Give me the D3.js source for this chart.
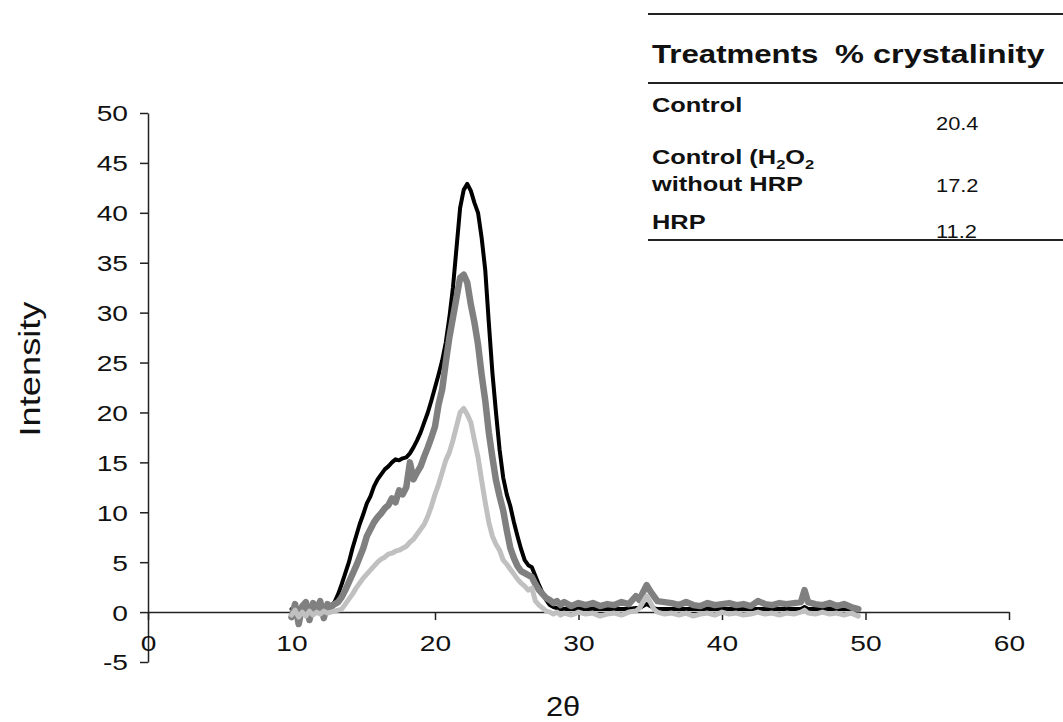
<!DOCTYPE html>
<html>
<head>
<meta charset="utf-8">
<script src="https://cdn.jsdelivr.net/npm/d3@7"></script>
<style>
  body { margin: 0; background: #fff; }
  svg { display: block; font-family: "Liberation Sans", Arial, sans-serif; }
</style>
</head>
<body>
<script>
// ---- data ----
const twoTheta = [10,10.25,10.5,10.75,11,11.25,11.5,11.75,12,12.25,12.5,12.75,13,13.25,13.5,13.75,14,14.25,14.5,14.75,15,15.25,15.5,15.75,16,16.25,16.5,16.75,17,17.25,17.5,17.75,18,18.25,18.5,18.75,19,19.25,19.5,19.75,20,20.25,20.5,20.75,21,21.25,21.5,21.75,22,22.25,22.5,22.75,23,23.25,23.5,23.75,24,24.25,24.5,24.75,25,25.25,25.5,25.75,26,26.25,26.5,26.75,27,27.25,27.5,27.75,28,28.25,28.5,28.75,29,29.5,30,30.5,31,31.5,32,32.5,33,33.5,34,34.25,34.5,34.75,35,35.25,35.5,36,36.5,37,37.5,38,38.5,39,39.5,40,40.5,41,41.5,42,42.5,43,43.5,44,44.5,45,45.5,45.75,46,46.5,47,47.5,48,48.5,49,49.5];

const controlIntensity = [0.3,0.2,0.4,0.2,0.4,0.3,0.3,0.4,0.3,0.4,0.5,0.6,1.0,1.8,2.8,3.9,5.0,6.4,7.6,8.8,9.8,10.9,11.6,12.6,13.3,13.8,14.3,14.6,15.0,15.3,15.2,15.4,15.5,15.9,16.5,17.2,18.0,19.0,20.0,21.2,22.5,23.8,25.2,27.0,29.5,32.5,36.5,40.5,42.3,42.9,42.2,41.0,40.0,37.5,34.3,29.0,24.0,20.0,16.3,13.5,11.8,10.6,9.0,7.6,6.3,5.2,4.7,4.5,3.6,2.7,1.9,1.2,0.7,0.5,0.4,0.3,0.3,0.3,0.3,0.3,0.3,0.3,0.3,0.3,0.3,0.3,0.4,0.4,0.6,0.8,0.6,0.4,0.3,0.3,0.3,0.3,0.3,0.3,0.3,0.3,0.3,0.3,0.3,0.3,0.3,0.3,0.3,0.3,0.3,0.3,0.3,0.3,0.3,0.5,0.3,0.3,0.3,0.3,0.3,0.3,0.3,0.2];

const h2o2Intensity = [-0.5,0.8,-1.2,0.6,1.0,-0.8,0.9,0.2,1.1,-0.6,0.8,0.5,0.8,1.0,1.5,2.2,3.0,3.8,4.6,5.5,6.4,7.6,8.3,9.0,9.5,9.9,10.4,10.7,11.4,11.0,12.2,11.8,12.5,15.0,13.3,14.0,14.6,15.6,16.5,17.5,18.6,20.8,22.3,25.0,27.5,29.5,31.5,33.5,33.8,33.0,30.8,29.0,26.8,23.8,21.2,18.0,15.5,13.2,11.6,10.2,8.2,6.4,5.4,4.6,4.1,3.9,3.7,3.5,2.8,2.2,1.8,1.4,1.2,0.9,1.1,0.7,1.0,0.6,0.9,0.7,0.9,0.6,0.8,0.7,1.0,0.8,1.6,1.2,2.0,2.7,2.1,1.6,1.1,1.0,0.9,0.7,1.0,0.7,0.6,0.9,0.7,0.8,0.9,0.7,0.8,0.6,1.1,0.8,0.7,0.9,0.8,0.9,1.0,2.2,1.0,0.8,0.7,0.9,0.6,0.8,0.5,0.3];

const hrpIntensity = [-0.3,0.2,-0.5,0.0,-0.4,0.1,-0.3,0.0,-0.2,0.1,-0.1,0.0,0.1,0.2,0.3,0.8,1.3,1.8,2.4,2.9,3.4,3.8,4.2,4.6,5.0,5.3,5.5,5.8,5.9,6.1,6.2,6.4,6.6,7.0,7.3,7.8,8.3,8.8,9.6,10.6,11.8,12.8,14.0,15.2,16.0,17.2,18.6,20.0,20.4,19.8,19.0,17.2,15.5,13.2,11.0,9.0,7.6,6.8,6.2,5.2,4.8,4.3,3.8,3.3,2.9,2.6,2.2,2.4,1.1,0.7,0.4,0.1,0.0,-0.2,0.0,-0.3,-0.1,-0.3,0.0,-0.2,-0.1,-0.4,-0.2,-0.1,-0.3,0.0,0.1,0.4,1.0,1.6,1.0,0.3,0.0,-0.2,-0.1,-0.3,-0.1,-0.4,-0.2,-0.1,-0.3,0.0,-0.2,-0.1,-0.3,-0.2,0.0,-0.2,-0.1,-0.3,-0.1,-0.2,0.0,0.2,-0.1,-0.2,0.0,-0.2,-0.1,-0.3,-0.1,-0.4];

const xTicks = [0,10,20,30,40,50,60];
const yTicks = [-5,0,5,10,15,20,25,30,35,40,45,50];

const tableHeader = ["Treatments", "% crystalinity"];
const tableTreatments = ["Control", "Control (H2O2 without HRP", "HRP"];
const tableCrystallinity = ["20.4", "17.2", "11.2"];

// ---- drawing ----
const W = 1063, H = 722;
const svg = d3.select("body").append("svg").attr("width", W).attr("height", H);

const x = d3.scaleLinear().domain([0, 60]).range([148, 1009]);
const y = d3.scaleLinear().domain([-5, 50]).range([662, 113]);

const SX = 1.28; // horizontal width of the reference's lettering
const plain = d => String(d); // hyphen-minus as in the reference

// y axis
const gy = svg.append("g").attr("transform", `translate(${x(0)},0)`)
  .call(d3.axisLeft(y).tickValues(yTicks).tickFormat(plain).tickSize(8).tickSizeOuter(0));
gy.select(".domain").attr("stroke", "#222").attr("stroke-width", 1.5);
gy.selectAll(".tick line").attr("stroke", "#222").attr("stroke-width", 1.5);
gy.selectAll(".tick text")
  .attr("x", 0).attr("dy", "0.36em")
  .attr("transform", `translate(-20,0) scale(${SX},1)`)
  .attr("font-size", 22).attr("fill", "#111")
  .attr("font-family", "Liberation Sans, Arial, sans-serif");

// x axis
const gx = svg.append("g").attr("transform", `translate(0,${y(0)})`)
  .call(d3.axisBottom(x).tickValues(xTicks).tickFormat(plain).tickSize(8).tickSizeOuter(0));
gx.select(".domain").attr("stroke", "#222").attr("stroke-width", 1.5);
gx.selectAll(".tick line").attr("stroke", "#222").attr("stroke-width", 1.5);
gx.selectAll(".tick text")
  .attr("y", 0).attr("dy", 0)
  .attr("transform", `translate(0,39) scale(${SX},1)`)
  .attr("font-size", 22).attr("fill", "#111")
  .attr("font-family", "Liberation Sans, Arial, sans-serif");

// curves
const line = d3.line().x(d => x(d[0])).y(d => y(d[1]));
const series = [
  { vals: controlIntensity, color: "#000000", width: 4 },
  { vals: h2o2Intensity, color: "#808080", width: 6.5 },
  { vals: hrpIntensity, color: "#c0c0c0", width: 5 }
];
series.forEach(s => {
  svg.append("path")
    .datum(twoTheta.map((t, i) => [t, s.vals[i]]))
    .attr("fill", "none")
    .attr("stroke", s.color)
    .attr("stroke-width", s.width)
    .attr("stroke-linejoin", "round")
    .attr("stroke-linecap", "round")
    .attr("d", line);
});

// axis titles
svg.append("text")
  .attr("transform", `translate(40,369) rotate(-90) scale(1.25,1)`)
  .attr("text-anchor", "middle")
  .attr("font-size", 29).attr("fill", "#111")
  .text("Intensity");
svg.append("text")
  .attr("transform", `translate(563,716) scale(1.1,1)`)
  .attr("text-anchor", "middle")
  .attr("font-size", 28).attr("fill", "#111")
  .text("2θ");

// table
const tg = svg.append("g");
[14, 83, 240].forEach(yy => {
  tg.append("line").attr("x1", 648).attr("x2", W).attr("y1", yy).attr("y2", yy)
    .attr("stroke", "#222").attr("stroke-width", 2);
});
function txt(str, tx, ty, size, bold, sx) {
  return tg.append("text")
    .attr("transform", `translate(${tx},${ty}) scale(${sx},1)`)
    .attr("font-size", size)
    .attr("font-weight", bold ? "bold" : "normal")
    .attr("fill", "#111")
    .text(str);
}
txt(tableHeader[0], 652, 63, 26, true, 1.2);
txt(tableHeader[1], 835, 63, 26, true, 1.25);

txt(tableTreatments[0], 652, 112, 20, true, 1.27);
// "Control (H2O2" with subscripts, then "without HRP"
const parts = tableTreatments[1].split(" without ");
const t2 = tg.append("text")
  .attr("transform", `translate(652,164) scale(1.27,1)`)
  .attr("font-size", 20).attr("font-weight", "bold").attr("fill", "#111");
t2.append("tspan").text("Control (H");
t2.append("tspan").attr("font-size", 13).attr("dy", 5).text("2");
t2.append("tspan").attr("dy", -5).text("O");
t2.append("tspan").attr("font-size", 13).attr("dy", 5).text("2");
txt("without " + parts[1], 652, 191, 20, true, 1.27);
txt(tableTreatments[2], 652, 229, 20, true, 1.27);

txt(tableCrystallinity[0], 936, 130, 19, false, 1.15);
txt(tableCrystallinity[1], 936, 192, 19, false, 1.15);
txt(tableCrystallinity[2], 936, 238, 19, false, 1.15);
</script>
</body>
</html>
